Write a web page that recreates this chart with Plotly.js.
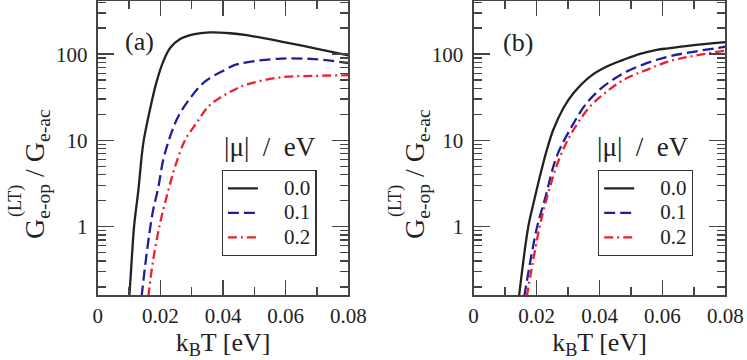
<!DOCTYPE html>
<html>
<head>
<meta charset="utf-8">
<script src="https://cdn.plot.ly/plotly-3.0.1.min.js"></script>
<style>
  html, body { margin: 0; padding: 0; background: #fff; }
  #plot { width: 747px; height: 360px; }
</style>
</head>
<body>
<div id="plot"></div>
<script>
// panel (a)
var xa0 = [0.0101, 0.01085, 0.0116, 0.013, 0.01455, 0.0167, 0.0188, 0.0209, 0.0231, 0.0263, 0.0305, 0.0358, 0.0422, 0.0475, 0.0586, 0.0693, 0.08];
var ya0 = [0.154, 0.41, 1.0, 2.7, 9.3, 23, 48, 82, 118, 150, 170, 179, 175, 166, 140, 117, 97];
var xa1 = [0.014, 0.0151, 0.0165, 0.0177, 0.0193, 0.0209, 0.0231, 0.0257, 0.0295, 0.0342, 0.0406, 0.0438, 0.048, 0.0586, 0.0693, 0.08];
var ya1 = [0.154, 0.34, 0.84, 1.56, 2.8, 5.9, 11.1, 18.9, 30.9, 48, 65.8, 75, 81, 89, 87.5, 79];
var xa2 = [0.01615, 0.0177, 0.0199, 0.0225, 0.0247, 0.0279, 0.0316, 0.0353, 0.0396, 0.0438, 0.048, 0.0586, 0.0693, 0.08];
var ya2 = [0.154, 0.41, 1.09, 2.6, 4.97, 10.1, 16, 24.7, 32.2, 39, 45, 54, 56, 57];

// panel (b)
var xb0 = [0.01444, 0.0174, 0.0193, 0.0216, 0.0233, 0.0253, 0.0285, 0.0317, 0.037, 0.0423, 0.0476, 0.0529, 0.0582, 0.0618, 0.0687, 0.08];
var yb0 = [0.154, 1.0, 2.04, 4.55, 7.8, 13.2, 23.6, 35.2, 55, 71.8, 86, 101, 112, 117, 126, 138];
var xb1 = [0.0161, 0.0201, 0.0227, 0.0264, 0.0312, 0.0359, 0.0412, 0.0476, 0.055, 0.0618, 0.0687, 0.08];
var yb1 = [0.154, 0.96, 2.1, 6.5, 14.5, 27, 42, 60, 78.7, 93.7, 105, 122];
var xb2 = [0.0169, 0.0209, 0.0232, 0.0275, 0.0317, 0.037, 0.0423, 0.0486, 0.055, 0.0618, 0.0687, 0.08];
var yb2 = [0.154, 0.96, 2.1, 6.5, 13.2, 24.7, 36.8, 52.7, 65.8, 82, 94, 110];

var muNames = ['0.0', '0.1', '0.2'];
var colors = ['#222222', '#1f1f9a', '#f0202a'];
var dashes = ['solid', '11px,5px', '9px,4px,2px,4px'];

var serif = '"Liberation Serif", "DejaVu Serif", serif';

// legend rows are spaced by the legend font size, the label itself is drawn larger
function legName(s) {
  return '<span style="font-size:21px">\u00a0\u00a0\u00a0\u00a0' + s + '</span>';
}

function mk(x, y, i, xa, ya, leg) {
  return {
    x: x, y: y, xaxis: xa, yaxis: ya, legend: leg,
    mode: 'lines', name: legName(muNames[i]),
    line: {color: colors[i], width: 2.3, dash: dashes[i], shape: 'spline', smoothing: 1}
  };
}

var data = [
  mk(xa0, ya0, 0, 'x', 'y', 'legend'),
  mk(xa1, ya1, 1, 'x', 'y', 'legend'),
  mk(xa2, ya2, 2, 'x', 'y', 'legend'),
  mk(xb0, yb0, 0, 'x2', 'y2', 'legend2'),
  mk(xb1, yb1, 1, 'x2', 'y2', 'legend2'),
  mk(xb2, yb2, 2, 'x2', 'y2', 'legend2')
];

function xax(dom, anchor) {
  return {
    domain: dom, anchor: anchor, range: [0, 0.08],
    tickvals: [0, 0.02, 0.04, 0.06, 0.08], ticktext: ['0', '0.02', '0.04', '0.06', '0.08'],
    ticks: 'inside', ticklen: 15, tickwidth: 1.5, tickcolor: '#444',
    minor: {dtick: 0.01, tick0: 0, ticks: 'inside', ticklen: 8, tickwidth: 1.5, tickcolor: '#444'},
    showline: true, linecolor: '#444', linewidth: 2, mirror: 'ticks',
    showgrid: false, zeroline: false,
    tickfont: {family: serif, size: 21, color: '#222'},
    title: {text: 'k<sub>B</sub>T [eV]', font: {family: serif, size: 26, color: '#222'}, standoff: 4}
  };
}
function yax(anchor) {
  return {
    domain: [0.17917, 0.99722], anchor: anchor, type: 'log', range: [-0.80, 2.617],
    tickvals: [1, 10, 100], ticktext: ['1', '10', '100'],
    ticks: 'inside', ticklen: 16, tickwidth: 1.5, tickcolor: '#444',
    minor: {tickvals: [0.2, 0.3, 0.4, 0.5, 0.6, 0.7, 0.8, 0.9, 2, 3, 4, 5, 6, 7, 8, 9, 20, 30, 40, 50, 60, 70, 80, 90, 200, 300, 400],
            ticks: 'inside', ticklen: 8, tickwidth: 1.5, tickcolor: '#444'},
    showline: true, linecolor: '#444', linewidth: 2, mirror: 'ticks',
    showgrid: false, zeroline: false,
    tickfont: {family: serif, size: 21, color: '#222'},
    ticklabelstandoff: 4
  };
}

function legendBox(x) {
  return {
    x: x, y: 0.5278, xanchor: 'left', yanchor: 'top', xref: 'paper', yref: 'paper',
    bgcolor: '#fff', bordercolor: '#333', borderwidth: 1.2,
    font: {family: serif, size: 16.5, color: '#222'}, tracegroupgap: 0
  };
}

function note(xp, yp, text, size, angle) {
  return {xref: 'paper', yref: 'paper', x: xp / 747, y: 1 - yp / 360,
          xanchor: 'center', yanchor: 'middle', text: text, textangle: angle || 0,
          showarrow: false, font: {family: serif, size: size, color: '#222'}};
}

function yTitle(xc) {
  return [
    note(xc, 174, 'G<sub>e-op</sub>\u00a0/\u00a0G<sub>e-ac</sub>', 28, -90),
    note(xc - 21, 201, '(LT)', 18, -90)
  ];
}

var annotations = [].concat(
  yTitle(36), yTitle(416),
  [
    note(139, 41, '(a)', 26),
    note(518, 42, '(b)', 26),
    note(270, 147, '|\u03bc|\u00a0\u00a0/\u00a0\u00a0eV', 27),
    note(643, 147, '|\u03bc|\u00a0\u00a0/\u00a0\u00a0eV', 27)
  ]
);

var layout = {
  width: 747, height: 360,
  margin: {l: 0, r: 0, t: 0, b: 0},
  paper_bgcolor: '#fff', plot_bgcolor: '#fff',
  showlegend: true,
  xaxis: xax([0.1308, 0.4664], 'y'),
  yaxis: yax('x'),
  xaxis2: xax([0.6339, 0.9712], 'y2'),
  yaxis2: yax('x2'),
  legend: legendBox(221.7 / 747),
  legend2: legendBox(598 / 747),
  annotations: annotations
};

Plotly.newPlot('plot', data, layout, {displayModeBar: false, staticPlot: true});
</script>
</body>
</html>
